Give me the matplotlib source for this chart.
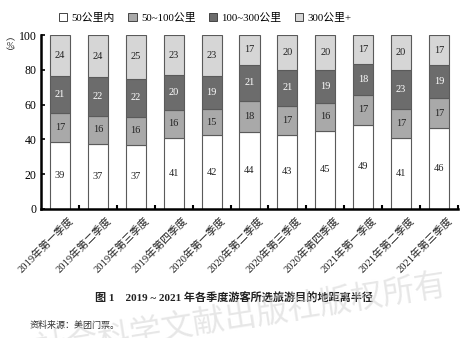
import numpy as np
import matplotlib
matplotlib.use('Agg')
import matplotlib.pyplot as plt
from matplotlib.patches import Patch

plt.rcParams['font.family'] = ['Liberation Serif', 'Noto Sans CJK SC', 'DejaVu Sans']

quarters = ['2019年第一季度', '2019年第二季度', '2019年第三季度', '2019年第四季度',
            '2020年第一季度', '2020年第二季度', '2020年第三季度', '2020年第四季度',
            '2021年第一季度', '2021年第二季度', '2021年第三季度']
series_names = ['50公里内', '50~100公里', '100~300公里', '300公里+']
within_50 = [39, 37, 37, 41, 42, 44, 43, 45, 49, 41, 46]
km_50_100 = [17, 16, 16, 16, 15, 18, 17, 16, 17, 17, 17]
km_100_300 = [21, 22, 22, 20, 19, 21, 21, 19, 18, 23, 19]
over_300 = [24, 24, 25, 23, 23, 17, 20, 20, 17, 20, 17]

colors = ['#ffffff', '#a9a9a9', '#6c6c6c', '#d6d6d6']
text_colors = ['#222222', '#222222', '#ffffff', '#222222']

data = np.array([within_50, km_50_100, km_100_300, over_300], dtype=float)
# rounded shares don't always add to 100, scale each bar to full height
heights = data / data.sum(axis=0) * 100

fig = plt.figure(figsize=(4.77, 3.38), dpi=100)
ax = fig.add_axes([0.086, 0.382, 0.874, 0.514])

x = np.arange(len(quarters))
bottom = np.zeros(len(quarters))
for i in range(4):
    ax.bar(x, heights[i], bottom=bottom, width=0.53, color=colors[i],
           edgecolor='#5a5a5a', linewidth=0.8, zorder=2)
    for xi, b, h, v in zip(x, bottom, heights[i], data[i]):
        ax.text(xi, b + h / 2, f'{int(v)}', ha='center', va='center',
                fontsize=7.5, color=text_colors[i], zorder=3)
    bottom += heights[i]

ax.set_xlim(-0.5, 10.5)
ax.set_ylim(0, 100)
ax.set_yticks([0, 20, 40, 60, 80, 100])
ax.tick_params(axis='y', direction='in', length=3, width=1.2, labelsize=8.5, pad=3)
ax.set_xticks(np.arange(0.5, 11, 1))
ax.set_xticklabels([])
ax.tick_params(axis='x', direction='in', length=3, width=1.5)
for s in ['top', 'right']:
    ax.spines[s].set_visible(False)
for s in ['left', 'bottom']:
    ax.spines[s].set_linewidth(1.8)

for xi, lab in zip(x, quarters):
    ax.text(xi + 0.22, -4, lab, rotation=45, ha='right', va='top',
            rotation_mode='anchor', fontsize=7.6, color='#222222')

# vertical unit label
fig.text(0.022, 0.865, '︵\n%\n︶', ha='center', va='center', fontsize=6.5,
         linespacing=0.9, color='#222222')

handles = [Patch(facecolor=c, edgecolor='#444444', linewidth=0.7) for c in colors]
fig.legend(handles, series_names, loc='center', bbox_to_anchor=(0.43, 0.948),
           ncol=4, frameon=False, fontsize=7.8, handlelength=0.8, handleheight=0.8,
           handletextpad=0.4, columnspacing=1.2)

fig.text(0.49, 0.118, '图 1　2019 ~ 2021 年各季度游客所选旅游目的地距离半径',
         ha='center', va='center', fontsize=8, fontweight='bold', color='#222222')
fig.text(0.063, 0.038, '资料来源：美团门票。', ha='left', va='center',
         fontsize=6.5, color='#333333')

# publisher watermark
fig.text(0.94, 0.06, '社会科学文献出版社版权所有', ha='right', va='center', rotation=9,
         fontsize=23, color='#d4d4d4', alpha=0.55, family=['Noto Sans CJK SC'])

fig.savefig('out.png', dpi=100)
